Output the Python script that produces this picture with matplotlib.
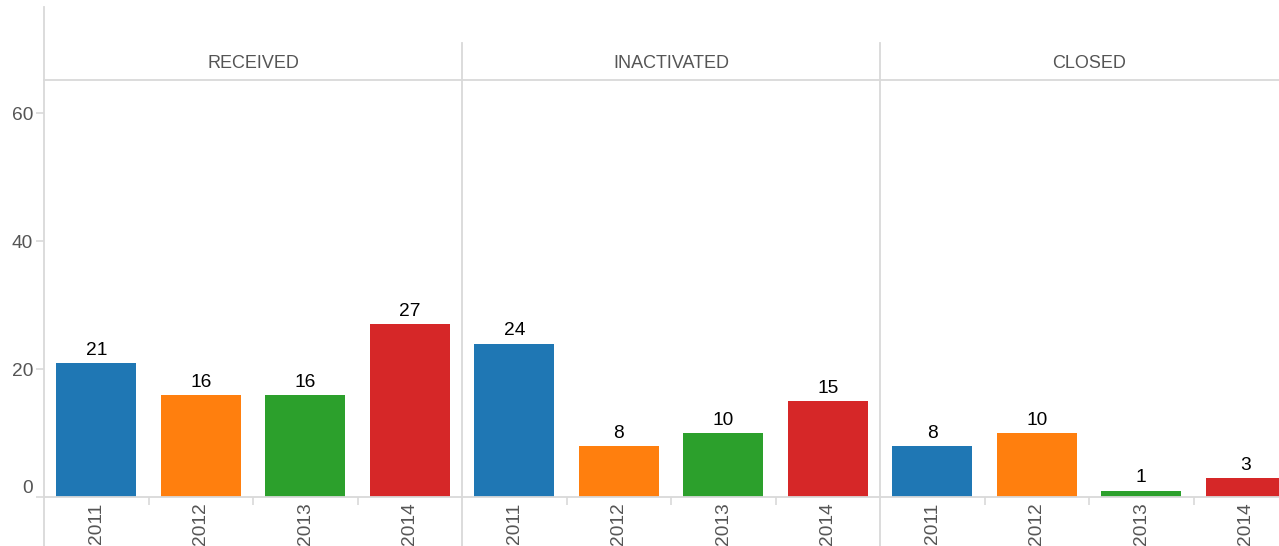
import matplotlib.pyplot as plt
from matplotlib.lines import Line2D

plt.rcParams["font.family"] = ["Liberation Sans", "DejaVu Sans"]

panels = ["RECEIVED", "INACTIVATED", "CLOSED"]
years = ["2011", "2012", "2013", "2014"]
received = [21, 16, 16, 27]
inactivated = [24, 8, 10, 15]
closed = [8, 10, 1, 3]
values = [received, inactivated, closed]
y_ticks = [0, 20, 40, 60]

colors = ["#1f77b4", "#ff7f0e", "#2ca02c", "#d62728"]
LINE = "#d9d9d9"
TXT = "#555555"

W, H = 1279, 546
fig = plt.figure(figsize=(W / 100, H / 100), dpi=100)

left_px, panel_w = 44, 418
top_px, base_px = 80, 497


def fx(px):
    return px / W


def fy(py):
    return 1 - py / H


for i, (name, vals) in enumerate(zip(panels, values)):
    x0 = left_px + i * panel_w
    ax = fig.add_axes([fx(x0), fy(base_px), panel_w / W, (base_px - top_px) / H])
    ax.bar(range(len(years)), vals, width=0.765, color=colors)
    ax.set_xlim(-0.5, len(years) - 0.5)
    ax.set_ylim(0, 65.2)
    for s in ["top", "right", "left"]:
        ax.spines[s].set_visible(False)
    ax.spines["bottom"].set_color(LINE)
    ax.spines["bottom"].set_linewidth(1.3)

    ax.set_xticks(range(len(years)))
    ax.set_xticklabels(years, rotation=90, va="top", color=TXT, fontsize=13.8)
    ax.tick_params(axis="x", which="major", length=0, pad=4)
    ax.set_xticks([0.5, 1.5, 2.5], minor=True)
    ax.tick_params(axis="x", which="minor", length=5.5, width=1.2, color=LINE)

    if i == 0:
        ax.set_yticks(y_ticks)
        ax.set_yticklabels([str(t) for t in y_ticks], color=TXT, fontsize=13.8)
        ax.tick_params(axis="y", length=6, width=1.2, color=LINE, pad=2)
        ax.get_yticklabels()[0].set_va("bottom")
    else:
        ax.set_yticks([])

    for j, v in enumerate(vals):
        ax.annotate(str(v), (j, v), xytext=(0, 3), textcoords="offset points",
                    ha="center", va="bottom", fontsize=13.8, color="black")

    # panel header
    fig.text(fx(x0 + panel_w / 2), fy(64), name, ha="center", va="center",
             fontsize=13, color=TXT)

# frame lines
fig.add_artist(Line2D([fx(left_px), fx(left_px)], [fy(7), 0], color=LINE, lw=1.3))
fig.add_artist(Line2D([fx(left_px), 1], [fy(top_px), fy(top_px)], color=LINE, lw=1.3))
for i in (1, 2):
    xs = fx(left_px + i * panel_w)
    fig.add_artist(Line2D([xs, xs], [fy(43), 0], color=LINE, lw=1.3))

fig.savefig("out.png", dpi=100)
